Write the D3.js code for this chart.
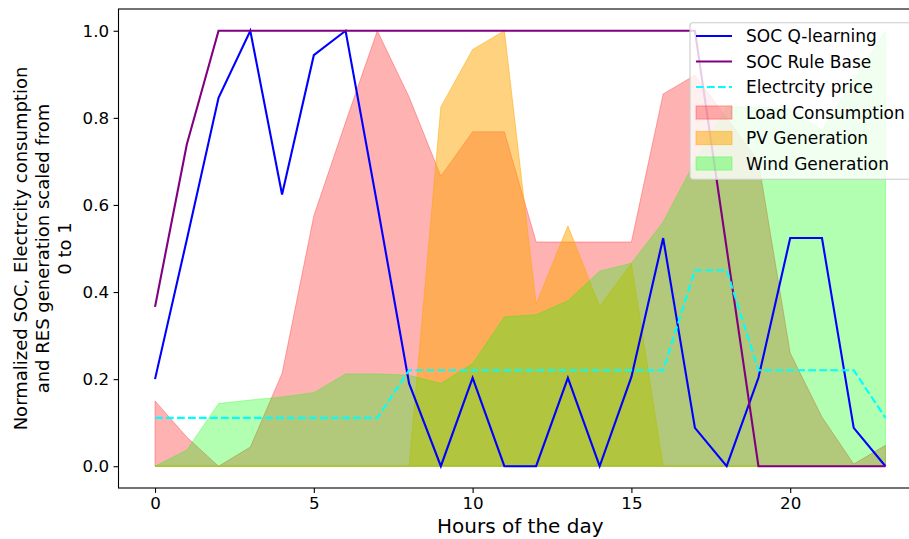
<!DOCTYPE html>
<html>
<head>
<meta charset="utf-8">
<script src="https://cdn.jsdelivr.net/npm/d3@7"></script>
<style>
  body { margin: 0; background: #fff; }
  svg { display: block; font-family: "DejaVu Sans", sans-serif; }
</style>
</head>
<body>
<svg id="chart" width="909" height="539"></svg>
<script>
// ---- data ----
const hours = [0,1,2,3,4,5,6,7,8,9,10,11,12,13,14,15,16,17,18,19,20,21,22,23];
const socQ = [0.20,0.52,0.846,1.0,0.624,0.944,1.0,0.60,0.19,0.0,0.203,0.0,0.0,0.203,0.0,0.205,0.524,0.088,0.0,0.203,0.524,0.524,0.088,0.0];
const socRule = [0.366,0.739,1,1,1,1,1,1,1,1,1,1,1,1,1,1,1,1,0.5,0,0,0,0,0];
const price = [0.111,0.111,0.111,0.111,0.111,0.111,0.111,0.111,0.2205,0.2205,0.2205,0.2205,0.2205,0.2205,0.2205,0.2205,0.2205,0.45,0.45,0.2205,0.2205,0.2205,0.2205,0.111];
const load = [0.15,0.067,0.0,0.044,0.213,0.575,0.79,1.0,0.848,0.666,0.768,0.768,0.515,0.515,0.515,0.515,0.855,0.898,0.80,0.70,0.26,0.113,0.005,0.048];
const pv = [0,0,0,0,0,0,0,0,0,0.825,0.957,1.0,0.372,0.552,0.367,0.466,0,0,0,0,0,0,0,0];
const wind = [0,0.037,0.144,0.152,0.159,0.169,0.212,0.212,0.209,0.19,0.236,0.343,0.348,0.38,0.448,0.466,0.561,0.70,0.825,0.825,0.82,0.772,0.886,1.0];
const xTicks = [0,5,10,15,20];
const yTicks = [0,0.2,0.4,0.6,0.8,1.0];
const yLabelLines = ["Normalized SOC, Electrcity consumption","and RES generation scaled from","0 to 1"];
const xLabel = "Hours of the day";

const lineSeries = [
  {name:"SOC Q-learning", values:socQ, color:"#0000ff", dash:null},
  {name:"SOC Rule Base", values:socRule, color:"#800080", dash:null},
  {name:"Electrcity price", values:price, color:"#00ffff", dash:"7.7,3.3"}
];
const areaSeries = [
  {name:"Load Consumption", values:load, color:"#ff0000", alpha:0.3},
  {name:"PV Generation", values:pv, color:"#ffa500", alpha:0.5},
  {name:"Wind Generation", values:wind, color:"#00ff00", alpha:0.3}
];

// ---- layout ----
const L = 118.5, R = 922, T = 9, B = 488;
const x = d3.scaleLinear().domain([-1.15, 24.15]).range([L, R]);
const y = d3.scaleLinear().domain([-0.05, 1.05]).range([B, T]);

const svg = d3.select("#chart");

// areas
const area = d3.area().x((d,i)=>x(hours[i])).y0(y(0)).y1(d=>y(d));
areaSeries.forEach(s=>{
  svg.append("path").datum(s.values)
    .attr("d", area)
    .attr("fill", s.color).attr("fill-opacity", s.alpha)
    .attr("stroke", s.color).attr("stroke-opacity", s.alpha).attr("stroke-width", 1);
});

// lines
const line = d3.line().x((d,i)=>x(hours[i])).y(d=>y(d));
lineSeries.forEach(s=>{
  svg.append("path").datum(s.values)
    .attr("d", line)
    .attr("fill","none").attr("stroke", s.color).attr("stroke-width", 2.1)
    .attr("stroke-dasharray", s.dash);
});

// axes
const xAxis = d3.axisBottom(x).tickValues(xTicks).tickFormat(d3.format("d")).tickSize(4.9).tickPadding(4.5);
const yAxis = d3.axisLeft(y).tickValues(yTicks).tickFormat(d3.format(".1f")).tickSize(4.9).tickPadding(4.5);
const gx = svg.append("g").attr("transform",`translate(0,${B})`).call(xAxis);
const gy = svg.append("g").attr("transform",`translate(${L},0)`).call(yAxis);
[gx,gy].forEach(g=>{
  g.select(".domain").remove();
  g.selectAll(".tick line").attr("stroke","#000").attr("stroke-width",1.1);
  g.selectAll(".tick text").attr("fill","#000").style("font-size","16.7px").style("font-family","DejaVu Sans");
});

// frame
svg.append("rect").attr("x",L).attr("y",T).attr("width",R-L).attr("height",B-T)
  .attr("fill","none").attr("stroke","#000").attr("stroke-width",1.1);

// x label
svg.append("text").attr("x",(L+R)/2).attr("y",533).attr("text-anchor","middle")
  .style("font-size","20px").attr("fill","#000").text(xLabel);

// y label
const ylx = [27, 49, 71];
yLabelLines.forEach((t,i)=>{
  svg.append("text").attr("transform",`translate(${ylx[i]},${(T+B)/2}) rotate(-90)`)
    .attr("text-anchor","middle").style("font-size","18px").attr("fill","#000").text(t);
});

// legend
const lg = svg.append("g");
lg.append("rect").attr("x",690).attr("y",22.7).attr("width",240).attr("height",156.6)
  .attr("rx",3).attr("fill","#fff").attr("fill-opacity",0.8).attr("stroke","#cccccc").attr("stroke-width",1.1);
const rowY = i => 36 + i*25.5;
lineSeries.forEach((s,i)=>{
  lg.append("line").attr("x1",696).attr("x2",732).attr("y1",rowY(i)).attr("y2",rowY(i))
    .attr("stroke",s.color).attr("stroke-width",2.1).attr("stroke-dasharray",s.dash);
  lg.append("text").attr("x",746).attr("y",rowY(i)+6.2).style("font-size","17px").attr("fill","#000").text(s.name);
});
areaSeries.forEach((s,j)=>{
  const i = j+3;
  lg.append("rect").attr("x",696).attr("y",rowY(i)-6.6).attr("width",36).attr("height",13.2)
    .attr("fill",s.color).attr("fill-opacity",s.alpha).attr("stroke",s.color).attr("stroke-opacity",s.alpha);
  lg.append("text").attr("x",746).attr("y",rowY(i)+6.2).style("font-size","17px").attr("fill","#000").text(s.name);
});
</script>
</body>
</html>
